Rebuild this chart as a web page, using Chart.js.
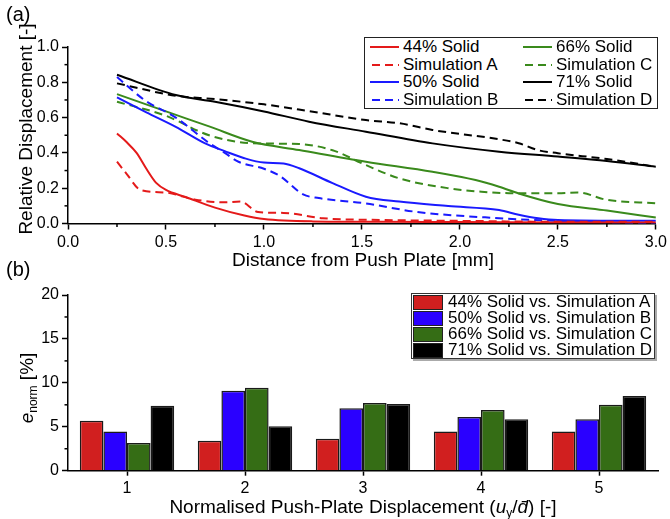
<!DOCTYPE html>
<html>
<head>
<meta charset="utf-8">
<script src="https://cdn.jsdelivr.net/npm/chart.js@4.4.1/dist/chart.umd.min.js"></script>
<style>
  body { margin: 0; background: #fff; font-family: "Liberation Sans", Arial, sans-serif; color: #000; }
  #wrap { position: relative; width: 670px; height: 519px; overflow: hidden; }
  canvas { position: absolute; left: 0; }
  .lbl { position: absolute; white-space: nowrap; }
  .ctr { transform: translate(-50%, -50%); }
  .rot { transform: translate(-50%, -50%) rotate(-90deg); }
  .title { font-size: 19px; }
  .panel { font-size: 20px; }
  sub { font-size: 12px; vertical-align: -4px; line-height: 0; }
  .legend { position: absolute; background: #fff; font-size: 17px; box-sizing: border-box; }
  .legend .item { position: absolute; display: flex; align-items: center; height: 18px; transform: translateY(-50%); white-space: nowrap; }
  .legend svg { display: block; }
  .swatch { width: 28px; height: 13px; border: 1px solid #222; }
</style>
</head>
<body>
<div id="wrap">
  <canvas id="chartA" width="670" height="270" style="top:0"></canvas>
  <canvas id="chartB" width="670" height="264" style="top:255px"></canvas>

  <div class="lbl panel" style="left:6px; top:3px;">(a)</div>
  <div class="lbl title rot" style="left:26px; top:129px;">Relative Displacement [-]</div>
  <div class="lbl title ctr" style="left:363px; top:260px;">Distance from Push Plate [mm]</div>

  <div class="lbl panel" style="left:6px; top:258px;">(b)</div>
  <div class="lbl title rot" style="left:27px; top:388px;"><i>e</i><sub>norm</sub> [%]</div>
  <div class="lbl title ctr" style="left:363px; top:507px;">Normalised Push-Plate Displacement (<i>u</i><sub>y</sub>/<i>d&#772;</i>) [-]</div>

  <div id="legendA" class="legend" style="left:364px; top:37px; width:294px; height:72px; border:1.5px solid #222;"></div>
  <div id="legendB" class="legend" style="left:411px; top:293px; width:244px; height:66px; border:1.5px solid #333; box-shadow:2px 2px 0 #aaa;"></div>
</div>

<script>
// ---- (a) relative displacement profiles ----
const solid44X = [0.25, 0.30, 0.35, 0.40, 0.45, 0.50, 0.60, 0.75, 0.90, 1.00, 1.25, 1.60, 2.00, 2.50, 3.00];
const solid44Y = [0.51, 0.46, 0.40, 0.31, 0.23, 0.19, 0.15, 0.09, 0.045, 0.025, 0.012, 0.010, 0.008, 0.006, 0.005];
const simAX = [0.25, 0.30, 0.37, 0.50, 0.65, 0.80, 0.88, 0.97, 1.10, 1.30, 1.60, 2.00, 2.50, 3.00];
const simAY = [0.35, 0.28, 0.19, 0.175, 0.135, 0.12, 0.125, 0.065, 0.06, 0.03, 0.02, 0.015, 0.01, 0.01];

const solid50X = [0.25, 0.40, 0.55, 0.70, 0.80, 0.90, 1.00, 1.10, 1.18, 1.35, 1.52, 1.69, 1.94, 2.20, 2.30, 2.40, 2.50, 3.00];
const solid50Y = [0.715, 0.63, 0.548, 0.454, 0.41, 0.37, 0.345, 0.34, 0.313, 0.229, 0.152, 0.124, 0.099, 0.076, 0.05, 0.03, 0.02, 0.015];
const simBX = [0.25, 0.39, 0.55, 0.72, 0.80, 0.87, 1.00, 1.08, 1.20, 1.28, 1.52, 1.77, 2.20, 2.50, 3.00];
const simBY = [0.83, 0.70, 0.60, 0.456, 0.40, 0.35, 0.31, 0.27, 0.165, 0.144, 0.114, 0.067, 0.03, 0.015, 0.0];

const solid66X = [0.25, 0.50, 0.72, 0.94, 1.18, 1.52, 1.86, 2.08, 2.20, 2.30, 2.50, 2.75, 3.00];
const solid66Y = [0.733, 0.635, 0.55, 0.463, 0.416, 0.35, 0.293, 0.246, 0.208, 0.17, 0.11, 0.073, 0.034];
const simCX = [0.25, 0.50, 0.72, 0.94, 1.18, 1.35, 1.52, 1.69, 1.94, 2.11, 2.25, 2.50, 2.60, 2.75, 3.00];
const simCY = [0.69, 0.61, 0.50, 0.455, 0.45, 0.415, 0.331, 0.256, 0.20, 0.18, 0.172, 0.172, 0.176, 0.134, 0.115];

const solid71X = [0.25, 0.55, 0.75, 1.00, 1.23, 1.52, 1.86, 2.20, 2.50, 2.75, 3.00];
const solid71Y = [0.843, 0.728, 0.69, 0.635, 0.577, 0.52, 0.454, 0.407, 0.379, 0.354, 0.322];
const simDX = [0.25, 0.55, 0.75, 1.00, 1.23, 1.52, 1.69, 1.86, 2.20, 2.30, 2.40, 2.50, 2.75, 3.00];
const simDY = [0.794, 0.724, 0.705, 0.675, 0.637, 0.586, 0.568, 0.53, 0.477, 0.455, 0.415, 0.398, 0.365, 0.322];

const lineNames  = ['44% Solid', 'Simulation A', '50% Solid', 'Simulation B', '66% Solid', 'Simulation C', '71% Solid', 'Simulation D'];
const lineColors = ['#e41a1a', '#e41a1a', '#1a1aff', '#1a1aff', '#3a8a1c', '#3a8a1c', '#000000', '#000000'];
const lineDashed = [false, true, false, true, false, true, false, true];
const lineXs = [solid44X, simAX, solid50X, simBX, solid66X, simCX, solid71X, simDX];
const lineYs = [solid44Y, simAY, solid50Y, simBY, solid66Y, simCY, solid71Y, simDY];

const xTicksA = [0, 0.5, 1.0, 1.5, 2.0, 2.5, 3.0];
const xMinorA = [0.25, 0.75, 1.25, 1.75, 2.25, 2.75];
const yMinorA = [0.1, 0.3, 0.5, 0.7, 0.9];

// ---- (b) normalised error ----
const categories = ['1', '2', '3', '4', '5'];
const err44 = [5.7, 3.4, 3.65, 4.45, 4.45];
const err50 = [4.45, 9.1, 7.1, 6.1, 5.85];
const err66 = [3.15, 9.45, 7.7, 6.9, 7.5];
const err71 = [7.4, 5.05, 7.6, 5.85, 8.5];
const barNames  = ['44% Solid vs. Simulation A', '50% Solid vs. Simulation B', '66% Solid vs. Simulation C', '71% Solid vs. Simulation D'];
const barColors = ['#d11f1f', '#2a00ff', '#356d15', '#000000'];
const yMinorB = [2.5, 7.5, 12.5, 17.5];

Chart.defaults.font.family = '"Liberation Sans", Arial, sans-serif';
Chart.defaults.color = '#000';

// short minor ticks drawn on the outside of the axes
const minorTicks = {
  id: 'minorTicks',
  afterDraw(chart, args, opts) {
    const ctx = chart.ctx;
    ctx.save();
    ctx.strokeStyle = '#000';
    ctx.lineWidth = 1.5;
    (opts.list || []).forEach(m => {
      const s = chart.scales[m.axis];
      m.values.forEach(v => {
        const p = s.getPixelForValue(v);
        ctx.beginPath();
        if (s.isHorizontal()) { ctx.moveTo(p, s.top); ctx.lineTo(p, s.top + 3.5); }
        else { ctx.moveTo(s.right, p); ctx.lineTo(s.right - 3.5, p); }
        ctx.stroke();
      });
    });
    ctx.restore();
  }
};

const axisGrid = { drawOnChartArea: false, tickLength: 6, tickColor: '#000', tickWidth: 1.5 };
const axisBorder = { color: '#000', width: 1.5 };

new Chart(document.getElementById('chartA'), {
  type: 'line',
  data: {
    datasets: lineNames.map((name, i) => ({
      label: name,
      data: lineXs[i].map((x, k) => ({ x: x, y: lineYs[i][k] })),
      borderColor: lineColors[i],
      borderWidth: 2,
      borderDash: lineDashed[i] ? [8, 5] : [],
      pointRadius: 0,
      cubicInterpolationMode: 'monotone',
      fill: false
    }))
  },
  options: {
    responsive: false,
    animation: false,
    devicePixelRatio: 1,
    layout: { padding: { top: 47, right: 12, left: 0, bottom: 0 } },
    plugins: {
      legend: { display: false },
      tooltip: { enabled: false },
      minorTicks: { list: [{ axis: 'x', values: xMinorA }, { axis: 'y', values: yMinorA }] }
    },
    scales: {
      x: {
        type: 'linear', min: 0, max: 3,
        afterBuildTicks: s => { s.ticks = xTicksA.map(v => ({ value: v })); },
        ticks: { callback: v => v.toFixed(1), font: { size: 16 }, padding: 3, maxRotation: 0 },
        grid: axisGrid, border: axisBorder,
        afterFit: s => { s.height = 46.5; }
      },
      y: {
        min: 0, max: 1,
        ticks: { stepSize: 0.2, callback: v => v.toFixed(1), font: { size: 16 }, padding: 3 },
        grid: axisGrid, border: axisBorder,
        afterFit: s => { s.width = 68; }
      }
    }
  },
  plugins: [minorTicks]
});

const barValues = [err44, err50, err66, err71];

new Chart(document.getElementById('chartB'), {
  type: 'bar',
  data: {
    labels: categories,
    datasets: barNames.map((name, i) => ({
      label: name,
      data: barValues[i],
      backgroundColor: barColors[i],
      borderColor: '#1a1a1a',
      borderWidth: 1.5,
      categoryPercentage: 0.8,
      barPercentage: 1.0
    }))
  },
  options: {
    responsive: false,
    animation: false,
    devicePixelRatio: 1,
    layout: { padding: { top: 40, right: 12, left: 0, bottom: 0 } },
    plugins: {
      legend: { display: false },
      tooltip: { enabled: false },
      minorTicks: { list: [{ axis: 'y', values: yMinorB }] }
    },
    scales: {
      x: {
        ticks: { font: { size: 16 }, padding: 3 },
        grid: Object.assign({}, axisGrid, { offset: false, tickLength: 5 }),
        border: axisBorder,
        afterFit: s => { s.height = 48.3; }
      },
      y: {
        min: 0, max: 20,
        ticks: { stepSize: 5, font: { size: 16 }, padding: 3 },
        grid: axisGrid, border: axisBorder,
        afterFit: s => { s.width = 68; }
      }
    }
  },
  plugins: [minorTicks]
});

// ---- legends (html) ----
function lineSample(color, dashed) {
  return '<svg width="29" height="6"><line x1="0" y1="3" x2="29" y2="3" stroke="' + color +
    '" stroke-width="2"' + (dashed ? ' stroke-dasharray="8 5" stroke-dashoffset="-2"' : '') + '/></svg>';
}

const legA = document.getElementById('legendA');
const rowYA = [9, 26.5, 44, 61.5];
lineNames.forEach((name, i) => {
  const col = i < 4 ? 0 : 1;
  const row = i % 4;
  const el = document.createElement('div');
  el.className = 'item';
  el.style.left = (col === 0 ? 5 : 158) + 'px';
  el.style.top = rowYA[row] + 'px';
  el.innerHTML = lineSample(lineColors[i], lineDashed[i]) + '<span style="margin-left:4px">' + name + '</span>';
  legA.appendChild(el);
});

const legB = document.getElementById('legendB');
barNames.forEach((name, i) => {
  const el = document.createElement('div');
  el.className = 'item';
  el.style.left = '1px';
  el.style.top = (8 + 16 * i) + 'px';
  el.innerHTML = '<div class="swatch" style="background:' + barColors[i] + '"></div><span style="margin-left:5px">' + name + '</span>';
  legB.appendChild(el);
});
</script>
</body>
</html>
